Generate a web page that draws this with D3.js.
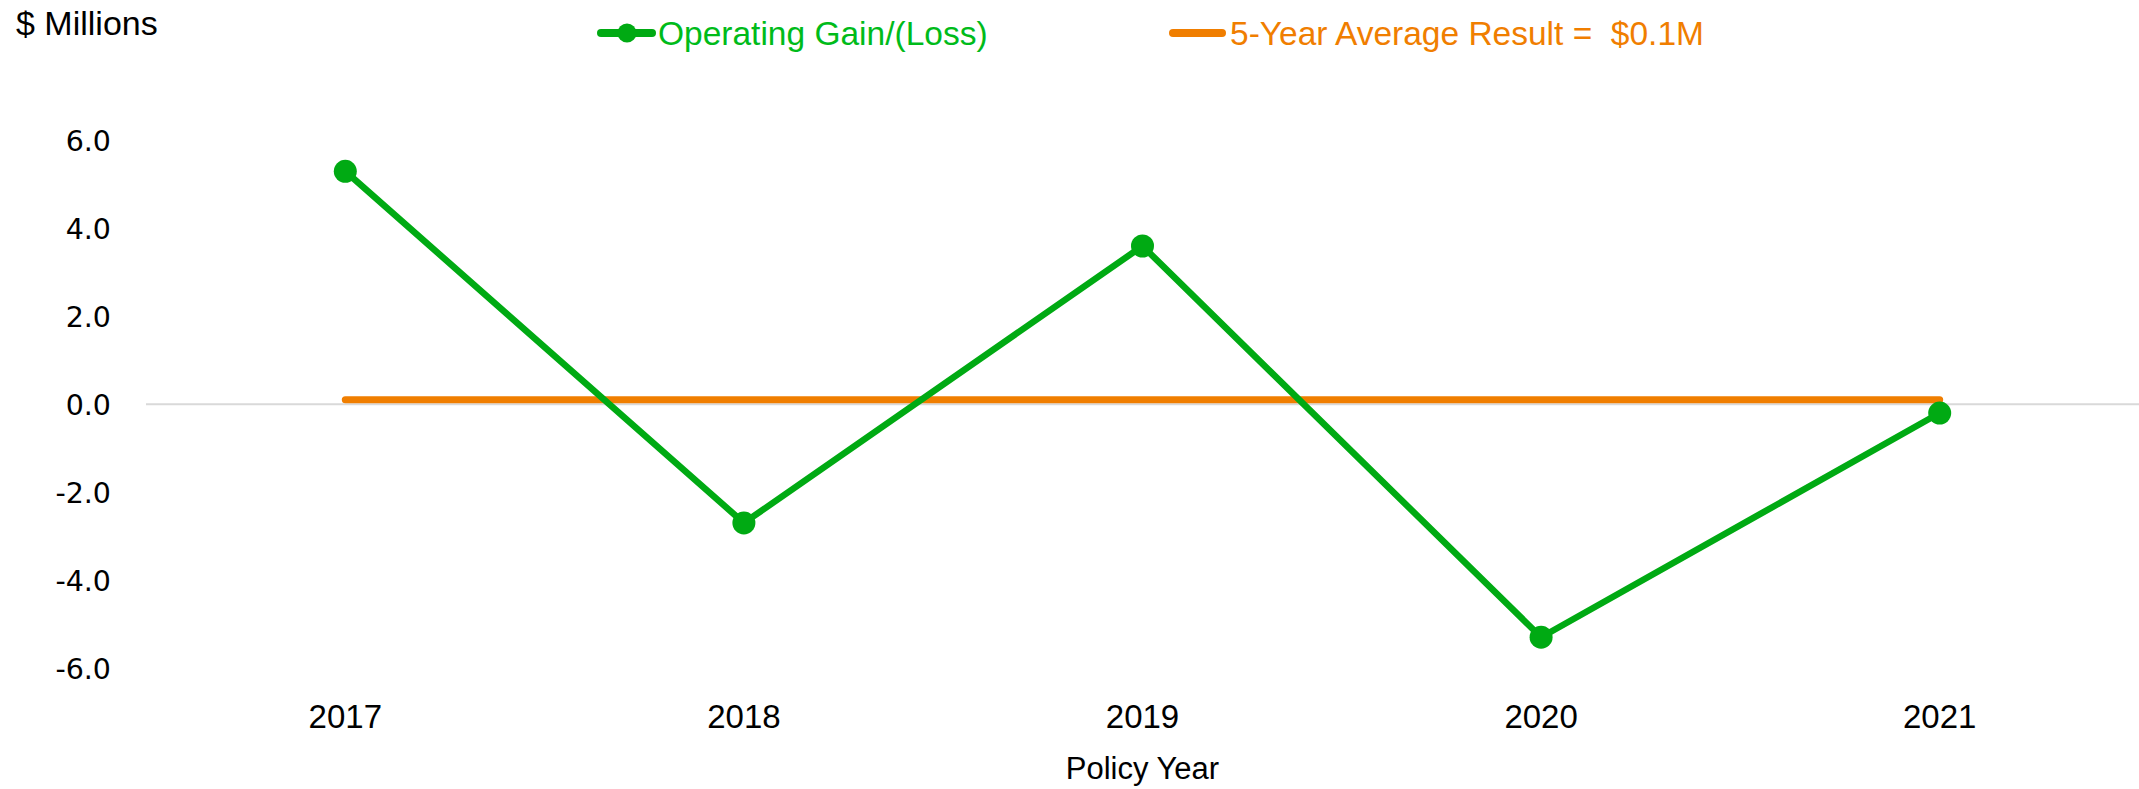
<!DOCTYPE html>
<html>
<head>
<meta charset="utf-8">
<script src="https://cdn.jsdelivr.net/npm/d3@7"></script>
<style>
  html, body { margin: 0; padding: 0; background: #fff; }
  svg { display: block; }
  text { white-space: pre; }
</style>
</head>
<body>
<svg id="chart" width="2139" height="789"></svg>
<script>
const years = ["2017", "2018", "2019", "2020", "2021"];
const operatingGain = [5.3, -2.7, 3.6, -5.3, -0.2];
const fiveYearAverage = 0.1;
const yTicks = [-6, -4, -2, 0, 2, 4, 6];
const seriesNames = ["Operating Gain/(Loss)", "5-Year Average Result =  $0.1M"];
const yAxisTitle = "$ Millions";
const xAxisTitle = "Policy Year";

const GREEN = "#00AA13";
const GREEN_TEXT = "#00BB1A";
const ORANGE = "#F07E00";
const LABEL_FONT = "'Liberation Sans', Arial, sans-serif";
const TICK_FONT = "'DejaVu Sans', Verdana, sans-serif";

const svg = d3.select("#chart");
const plot = { left: 146, right: 2139, top: 140.5, bottom: 668 };

const x = d3.scaleBand().domain(years).range([plot.left, plot.right]);
const y = d3.scaleLinear().domain([-6, 6]).range([plot.bottom, plot.top]);
const cx = d => x(d) + x.bandwidth() / 2;

// zero gridline
svg.append("line")
  .attr("x1", plot.left).attr("x2", plot.right)
  .attr("y1", y(0)).attr("y2", y(0))
  .attr("stroke", "#d9d9d9").attr("stroke-width", 2);

// y axis (labels only)
const yAxis = d3.axisLeft(y).tickValues(yTicks)
  .tickFormat(d => d.toFixed(1))
  .tickSize(0).tickPadding(0);
const yg = svg.append("g").attr("transform", `translate(111,0)`).call(yAxis);
yg.select(".domain").remove();
yg.selectAll("text")
  .attr("font-family", TICK_FONT).attr("font-size", 28.5).attr("fill", "#000")
  .attr("dy", "0.36em");

// x axis (labels only)
const xAxis = d3.axisBottom(x).tickSize(0).tickPadding(0);
const xg = svg.append("g").attr("transform", `translate(0,704)`).call(xAxis);
xg.select(".domain").remove();
xg.selectAll("text")
  .attr("font-family", LABEL_FONT).attr("font-size", 33).attr("fill", "#000")
  .attr("dy", "0.72em");

// average line
svg.append("line")
  .attr("x1", cx(years[0])).attr("x2", cx(years[years.length - 1]))
  .attr("y1", y(fiveYearAverage)).attr("y2", y(fiveYearAverage))
  .attr("stroke", ORANGE).attr("stroke-width", 7).attr("stroke-linecap", "round");

// operating gain line
const line = d3.line().x((d, i) => cx(years[i])).y(d => y(d));
svg.append("path")
  .datum(operatingGain)
  .attr("d", line)
  .attr("fill", "none").attr("stroke", GREEN).attr("stroke-width", 6.5)
  .attr("stroke-linejoin", "round");

svg.selectAll("circle.pt")
  .data(operatingGain)
  .enter().append("circle").attr("class", "pt")
  .attr("cx", (d, i) => cx(years[i])).attr("cy", d => y(d))
  .attr("r", 11.5).attr("fill", GREEN);

// axis titles
svg.append("text")
  .attr("x", 16).attr("y", 35)
  .attr("font-family", LABEL_FONT).attr("font-size", 34).attr("fill", "#000")
  .text(yAxisTitle);

svg.append("text")
  .attr("x", (plot.left + plot.right) / 2).attr("y", 779)
  .attr("text-anchor", "middle")
  .attr("font-family", LABEL_FONT).attr("font-size", 31).attr("fill", "#000")
  .text(xAxisTitle);

// legend
const legY = 33;
const lg1 = svg.append("g");
lg1.append("line").attr("x1", 601).attr("x2", 652).attr("y1", legY).attr("y2", legY)
  .attr("stroke", GREEN).attr("stroke-width", 8).attr("stroke-linecap", "round");
lg1.append("circle").attr("cx", 627).attr("cy", legY).attr("r", 9.5).attr("fill", GREEN);
lg1.append("text").attr("x", 658).attr("y", legY).attr("dy", "0.35em")
  .attr("font-family", LABEL_FONT).attr("font-size", 33.5).attr("fill", GREEN_TEXT)
  .text(seriesNames[0]);

const lg2 = svg.append("g");
lg2.append("line").attr("x1", 1173).attr("x2", 1222).attr("y1", legY).attr("y2", legY)
  .attr("stroke", ORANGE).attr("stroke-width", 8).attr("stroke-linecap", "round");
lg2.append("text").attr("x", 1230).attr("y", legY).attr("dy", "0.35em")
  .attr("font-family", LABEL_FONT).attr("font-size", 33.5).attr("fill", ORANGE)
  .text(seriesNames[1]);
</script>
</body>
</html>
